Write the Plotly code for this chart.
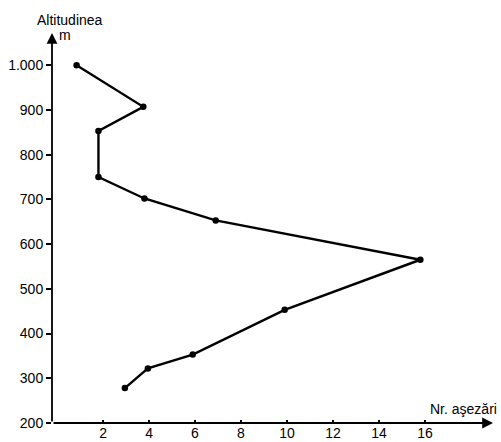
import plotly.graph_objects as go

# Number of settlements per altitude step
settlements = [0.85, 3.75, 1.8, 1.8, 3.8, 6.9, 15.8, 9.9, 5.9, 3.95, 2.95]
altitude_m = [1000, 907, 853, 750, 702, 653, 565, 453, 353, 322, 278]

x_ticks = [2, 4, 6, 8, 10, 12, 14, 16]
y_ticks = [200, 300, 400, 500, 600, 700, 800, 900, 1000]
y_tick_labels = ["200", "300", "400", "500", "600", "700", "800", "900", "1.000"]

X_RANGE = [-0.22, 18.96]
Y_RANGE = [200, 1072]
FONT = "Liberation Sans, Arial, sans-serif"

W, H = 501, 442
L, R, T, B = 52, 8, 33, 19


def paper_xy(px, py):
    """Pixel position on the page -> paper coordinates."""
    return (px - L) / (W - L - R), 1 - (py - T) / (H - T - B)


fig = go.Figure()
fig.add_trace(go.Scatter(
    x=settlements, y=altitude_m, mode="lines+markers",
    line=dict(color="black", width=2.4),
    marker=dict(color="black", size=6.5),
    showlegend=False, hoverinfo="skip",
))

# Axis lines with arrowheads
for tip, tail in [((X_RANGE[1], Y_RANGE[0]), (X_RANGE[0], Y_RANGE[0])),
                  ((X_RANGE[0], Y_RANGE[1]), (X_RANGE[0], Y_RANGE[0]))]:
    fig.add_annotation(x=tip[0], y=tip[1], ax=tail[0], ay=tail[1],
                       xref="x", yref="y", axref="x", ayref="y",
                       showarrow=True, arrowhead=2, arrowsize=1.2,
                       arrowwidth=1.8, arrowcolor="black", text="")

# Axis titles
titles = [("Altitudinea", 70, 20, "center"),
          ("m", 65, 35, "center"),
          ("Nr. aşezări", 499, 409, "right")]
for text, px, py, anchor in titles:
    x, y = paper_xy(px, py)
    fig.add_annotation(x=x, y=y, xref="paper", yref="paper", text=text,
                       showarrow=False, xanchor=anchor, yanchor="middle",
                       font=dict(family=FONT, size=14, color="black"))

fig.update_layout(
    width=W, height=H,
    margin=dict(l=L, r=R, t=T, b=B),
    paper_bgcolor="white", plot_bgcolor="white",
    font=dict(family=FONT, size=14, color="black"),
    xaxis=dict(range=X_RANGE, tickvals=x_ticks, showgrid=False, zeroline=False,
               showline=False, ticks="inside", ticklen=3, tickcolor="black",
               tickwidth=1.5, automargin=False, fixedrange=True),
    yaxis=dict(range=Y_RANGE, tickvals=y_ticks, ticktext=y_tick_labels,
               showgrid=False, zeroline=False, showline=False, ticks="outside",
               ticklen=5, tickcolor="black", tickwidth=1.5, automargin=False,
               fixedrange=True),
)

fig.write_html("out.html", config={"displayModeBar": False})
